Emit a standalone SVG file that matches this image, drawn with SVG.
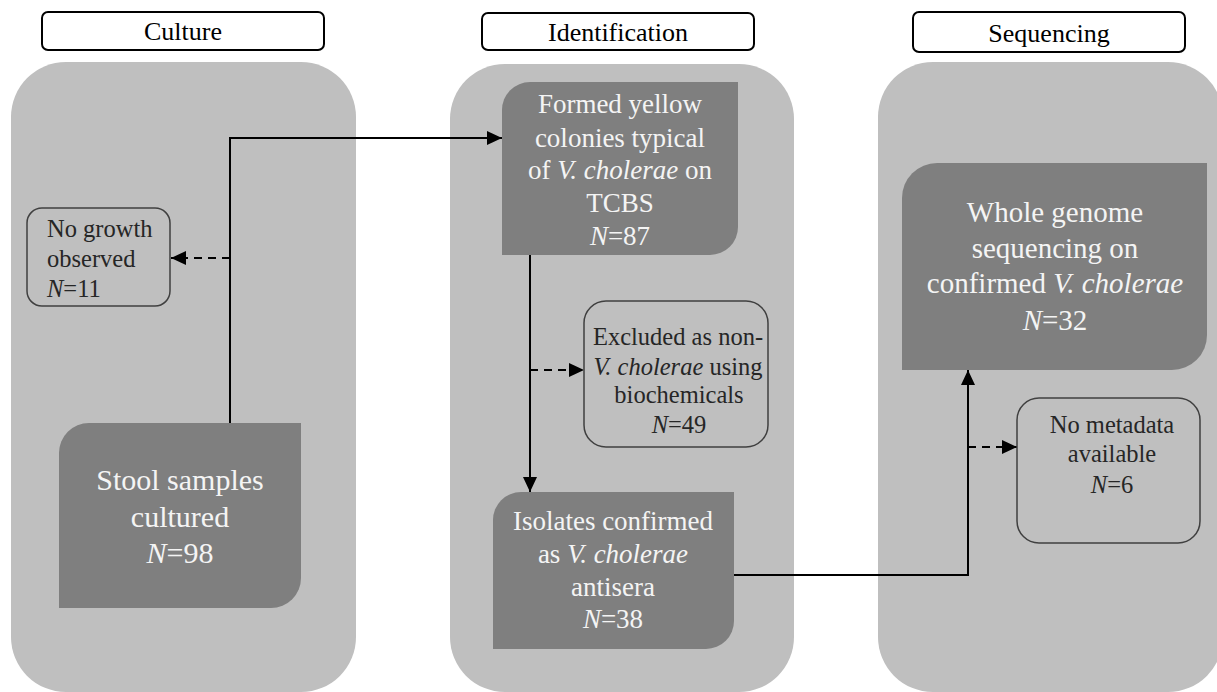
<svg xmlns="http://www.w3.org/2000/svg" width="1217" height="692" viewBox="0 0 1217 692">
<defs>
<style>
.hdr{fill:#fff;stroke:#000;stroke-width:2}
.panel{fill:#bfbfbf}
.dark{fill:#7f7f7f}
.lite{fill:#bfbfbf;stroke:#404040;stroke-width:1.5}
.conn{fill:none;stroke:#000;stroke-width:2}
.dash{stroke-dasharray:8,6}
</style>
<marker id="ah" markerUnits="userSpaceOnUse" markerWidth="16" markerHeight="14" refX="15" refY="7" orient="auto">
<path d="M0,0 L15,7 L0,14 Z" fill="#000"/>
</marker>
</defs>
<rect width="1217" height="692" fill="#fff"/>
<g id="panels">
<rect class="panel" x="11" y="62" width="345" height="630" rx="55"/>
<rect class="panel" x="450" y="64" width="344" height="628" rx="55"/>
<rect class="panel" x="878" y="62" width="345" height="630" rx="55"/>
</g>
<g id="connectors">
<polyline class="conn" points="230,423 230,138 502,138" marker-end="url(#ah)"/>
<line class="conn dash" x1="230" y1="258" x2="171" y2="258" marker-end="url(#ah)"/>
<line class="conn" x1="530" y1="255" x2="530" y2="492" marker-end="url(#ah)"/>
<line class="conn dash" x1="530" y1="370" x2="584" y2="370" marker-end="url(#ah)"/>
<polyline class="conn" points="734,575 968,575 968,370" marker-end="url(#ah)"/>
<line class="conn dash" x1="968" y1="447" x2="1017" y2="447" marker-end="url(#ah)"/>
</g>
<g font-family="Liberation Serif">
<g id="header-culture">
<rect class="hdr" x="42" y="12" width="282" height="38" rx="6"/>
<text x="183" y="40" font-size="26" fill="#000" text-anchor="middle">Culture</text>
</g>
<g id="header-identification">
<rect class="hdr" x="482" y="13" width="272" height="37" rx="6"/>
<text x="618" y="41" font-size="26" fill="#000" text-anchor="middle">Identification</text>
</g>
<g id="header-sequencing">
<rect class="hdr" x="913" y="12" width="272" height="40" rx="6"/>
<text x="1049" y="42" font-size="26" fill="#000" text-anchor="middle">Sequencing</text>
</g>
<g id="node-stool">
<path class="dark" d="M59,453 A30,30 0 0 1 89,423 H301 V578 A30,30 0 0 1 271,608 H59 Z"/>
<g font-size="30" fill="#f4f4f4" text-anchor="middle">
<text x="180" y="490">Stool samples</text>
<text x="180" y="527">cultured</text>
<text x="180" y="563"><tspan font-style="italic">N</tspan>=98</text>
</g>
</g>
<g id="node-nogrowth">
<rect class="lite" x="27" y="208" width="143" height="98" rx="15"/>
<g font-size="24.5" fill="#262626">
<text x="47" y="237">No growth</text>
<text x="47" y="267">observed</text>
<text x="47" y="297"><tspan font-style="italic">N</tspan>=11</text>
</g>
</g>
<g id="node-formed">
<path class="dark" d="M502,110 A28,28 0 0 1 530,82 H738 V227 A28,28 0 0 1 710,255 H502 Z"/>
<g font-size="27" fill="#f4f4f4" text-anchor="middle">
<text x="620" y="113">Formed yellow</text>
<text x="620" y="147">colonies typical</text>
<text x="620" y="179">of <tspan font-style="italic">V. cholerae</tspan> on</text>
<text x="620" y="212">TCBS</text>
<text x="620" y="245"><tspan font-style="italic">N</tspan>=87</text>
</g>
</g>
<g id="node-excluded">
<rect class="lite" x="584" y="301" width="184" height="146" rx="22"/>
<g font-size="24.5" fill="#262626" text-anchor="middle">
<text x="678" y="345">Excluded as non-</text>
<text x="678" y="375"><tspan font-style="italic">V. cholerae</tspan> using</text>
<text x="679" y="403">biochemicals</text>
<text x="679" y="433"><tspan font-style="italic">N</tspan>=49</text>
</g>
</g>
<g id="node-isolates">
<path class="dark" d="M493,520 A28,28 0 0 1 521,492 H734 V621 A28,28 0 0 1 706,649 H493 Z"/>
<g font-size="27" fill="#f4f4f4" text-anchor="middle">
<text x="613" y="530">Isolates confirmed</text>
<text x="613" y="563">as <tspan font-style="italic">V. cholerae</tspan></text>
<text x="613" y="596">antisera</text>
<text x="613" y="628"><tspan font-style="italic">N</tspan>=38</text>
</g>
</g>
<g id="node-wgs">
<path class="dark" d="M902,198 A35,35 0 0 1 937,163 H1207 V335 A35,35 0 0 1 1172,370 H902 Z"/>
<g font-size="29" fill="#f4f4f4" text-anchor="middle">
<text x="1055" y="222">Whole genome</text>
<text x="1055" y="258">sequencing on</text>
<text x="1055" y="293">confirmed <tspan font-style="italic">V. cholerae</tspan></text>
<text x="1055" y="330"><tspan font-style="italic">N</tspan>=32</text>
</g>
</g>
<g id="node-nometadata">
<rect class="lite" x="1017" y="398" width="183" height="145" rx="22"/>
<g font-size="24.5" fill="#262626" text-anchor="middle">
<text x="1112" y="433">No metadata</text>
<text x="1112" y="462">available</text>
<text x="1112" y="493"><tspan font-style="italic">N</tspan>=6</text>
</g>
</g>
</g>
</svg>
